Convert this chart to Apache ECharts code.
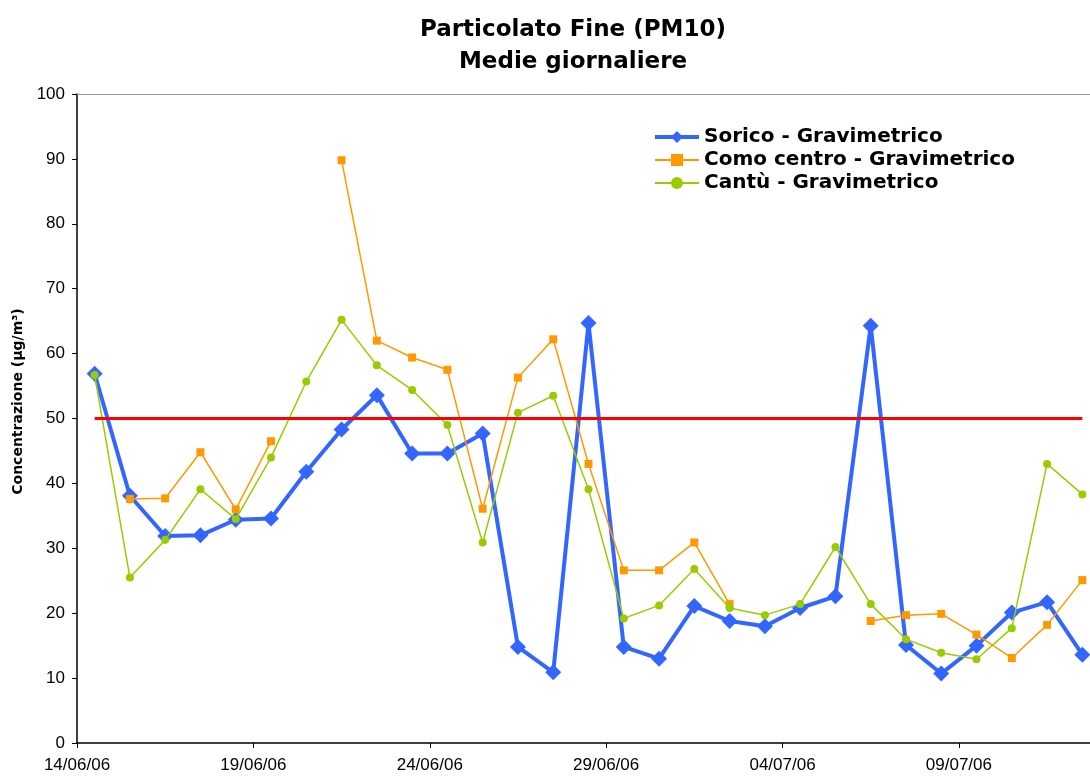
<!DOCTYPE html>
<html>
	<head>
		<meta charset="utf-8" />
		<title>Particolato Fine (PM10)</title>
		<script src="https://cdn.jsdelivr.net/npm/echarts@6/dist/echarts.min.js"></script>
	</head>
	<body style="margin:0;overflow:hidden;">
		<!-- il grafico originale è tagliato a destra: il div è un po' più largo della finestra -->
		<div id="main" style="width: 1100px;height: 780px;"></div>
		<script type="text/javascript">
			// giorni (uno per punto)
			var categories = ['14/06/06','15/06/06','16/06/06','17/06/06','18/06/06','19/06/06','20/06/06',
				'21/06/06','22/06/06','23/06/06','24/06/06','25/06/06','26/06/06','27/06/06','28/06/06',
				'29/06/06','30/06/06','01/07/06','02/07/06','03/07/06','04/07/06','05/07/06','06/07/06',
				'07/07/06','08/07/06','09/07/06','10/07/06','11/07/06','12/07/06'];
			var sorico = [56.9, 38.1, 31.9, 32.0, 34.4, 34.6, 41.8, 48.3, 53.6, 44.6, 44.6, 47.7, 14.8, 10.9,
				64.7, 14.8, 13.0, 21.1, 18.8, 18.0, 20.8, 22.6, 64.3, 15.1, 10.7, 15.0, 20.1, 21.7, 13.6];
			var como = [null, 37.6, 37.7, 44.8, 36.0, 46.5, null, 89.8, 62.0, 59.4, 57.5, 36.1, 56.3, 62.2,
				43.0, 26.6, 26.6, 30.9, 21.4, null, null, null, 18.8, 19.7, 19.9, 16.7, 13.1, 18.2, 25.1];
			var cantu = [56.7, 25.5, 31.3, 39.1, 34.5, 44.0, 55.7, 65.2, 58.2, 54.4, 49.0, 30.9, 50.9, 53.5,
				39.1, 19.2, 21.2, 26.8, 20.8, 19.7, 21.4, 30.2, 21.4, 16.0, 13.9, 12.9, 17.7, 43.0, 38.3];
			var seriesNames = ['Sorico - Gravimetrico', 'Como centro - Gravimetrico', 'Cantù - Gravimetrico'];
			var LIMITE = 50; // valore limite giornaliero
			var yTicks = [0, 10, 20, 30, 40, 50, 60, 70, 80, 90, 100];

			// ogni punto sta a metà giornata
			function pts(arr) {
				return arr.map(function(v, i) { return [i + 0.5, v == null ? '-' : v]; });
			}

			var myChart = echarts.init(document.getElementById('main'));
			var option = {
				backgroundColor: '#fff',
				animation: false,
				title: {
					text: 'Particolato Fine (PM10)\nMedie giornaliere',
					left: 568,
					top: 9,
					textAlign: 'center',
					textStyle: {
						fontFamily: 'DejaVu Sans',
						fontWeight: 'bold',
						fontSize: 23,
						lineHeight: 32,
						color: '#000'
					}
				},
				legend: {
					orient: 'vertical',
					left: 648,
					top: 121,
					itemWidth: 44,
					itemHeight: 15,
					itemGap: 1,
					data: [
						{ name: seriesNames[0], lineStyle: { width: 4 } },
						{ name: seriesNames[1] },
						{ name: seriesNames[2] }
					],
					textStyle: {
						fontFamily: 'DejaVu Sans',
						fontWeight: 'bold',
						fontSize: 20,
						lineHeight: 22,
						color: '#000'
					}
				},
				grid: {
					left: 77,
					right: 0,
					top: 94,
					bottom: 37
				},
				xAxis: [{
					type: 'value',
					min: 0,
					max: categories.length,
					interval: 5,
					splitLine: { show: false },
					axisLine: { lineStyle: { color: '#000', width: 1.5 } },
					axisTick: { length: 5, lineStyle: { color: '#000' } },
					axisLabel: {
						margin: 14,
						fontFamily: 'Liberation Sans',
						fontSize: 17,
						color: '#000',
						showMaxLabel: false,
						formatter: function(v) { return categories[v] || ''; }
					}
				}, {
					// bordo superiore dell'area del grafico
					type: 'value',
					position: 'top',
					min: 0,
					max: categories.length,
					axisLine: { lineStyle: { color: '#999', width: 1 } },
					axisTick: { show: false },
					axisLabel: { show: false },
					splitLine: { show: false }
				}],
				yAxis: {
					type: 'value',
					min: yTicks[0],
					max: yTicks[yTicks.length - 1],
					interval: yTicks[1] - yTicks[0],
					name: 'Concentrazione (µg/m³)',
					nameLocation: 'middle',
					nameGap: 52,
					nameTextStyle: {
						fontFamily: 'DejaVu Sans',
						fontWeight: 'bold',
						fontSize: 14,
						color: '#000',
						padding: [0, 0, 0, 34]
					},
					splitLine: { show: false },
					axisLine: { show: true, lineStyle: { color: '#000', width: 1.5 } },
					axisTick: { show: true, length: 5, lineStyle: { color: '#000' } },
					axisLabel: {
						margin: 12,
						fontFamily: 'Liberation Sans',
						fontSize: 17,
						color: '#000'
					}
				},
				series: [{
					name: seriesNames[0],
					type: 'line',
					data: pts(sorico),
					symbol: 'diamond',
					symbolSize: 16,
					color: '#3366FF',
					lineStyle: { width: 4 },
					z: 2
				}, {
					name: seriesNames[1],
					type: 'line',
					data: pts(como),
					symbol: 'rect',
					symbolSize: 8,
					color: '#FF9900',
					lineStyle: { width: 1.5 },
					z: 3
				}, {
					name: seriesNames[2],
					type: 'line',
					data: pts(cantu),
					symbol: 'circle',
					symbolSize: 8,
					color: '#99CC00',
					lineStyle: { width: 1.5 },
					z: 4
				}, {
					name: 'Limite',
					type: 'line',
					data: [[0.5, LIMITE], [categories.length - 0.5, LIMITE]],
					symbol: 'none',
					color: '#FF0000',
					lineStyle: { width: 3 },
					z: 5
				}]
			};
			myChart.setOption(option);
		</script>
	</body>
</html>
